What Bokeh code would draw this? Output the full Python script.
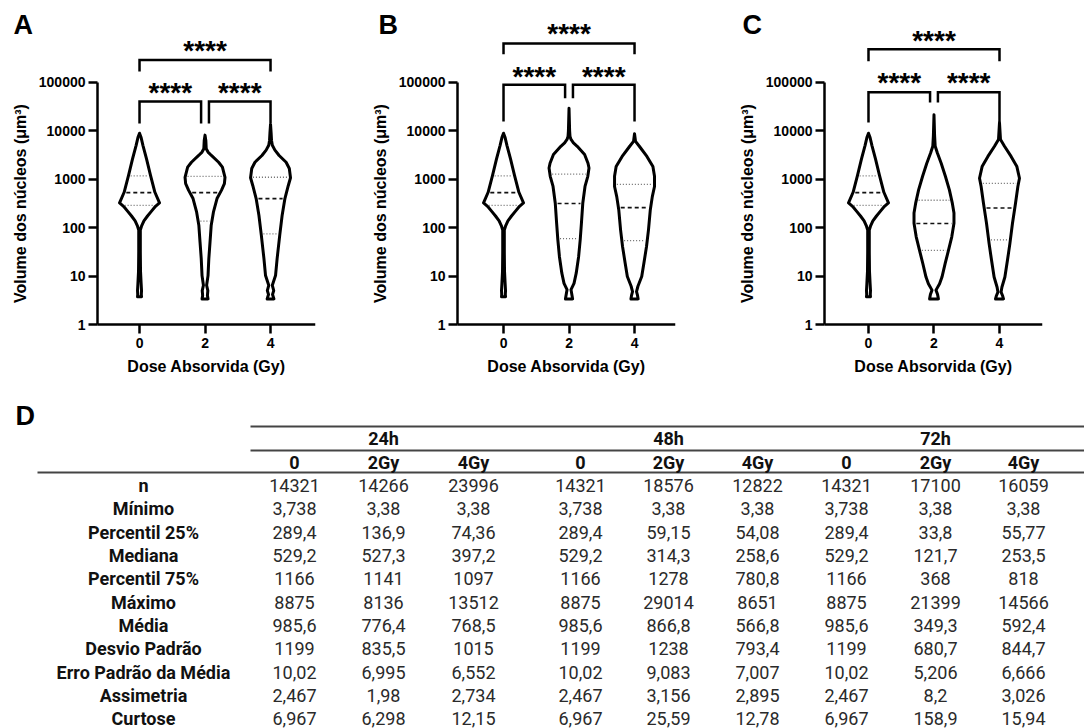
import numpy as np
from bokeh.plotting import figure
from bokeh.layouts import row, column
from bokeh.models import Range1d, FixedTicker, CustomJSTickFormatter, Label
from bokeh.core.properties import value
from bokeh.embed import file_html
from bokeh.resources import INLINE

# ---------------- data ----------------
DOSES = [0, 2, 4]
TIMES = ["24h", "48h", "72h"]
GROUPS = ["0", "2Gy", "4Gy"]
PANELS = ["A", "B", "C"]
Y_TICKS = [1, 10, 100, 1000, 10000, 100000]

ROW_LABELS = ["n", "Mínimo", "Percentil 25%", "Mediana", "Percentil 75%", "Máximo",
              "Média", "Desvio Padrão", "Erro Padrão da Média", "Assimetria", "Curtose"]
N_CELLS = [14321, 14266, 23996, 14321, 18576, 12822, 14321, 17100, 16059]
MINIMO = [3.738, 3.38, 3.38, 3.738, 3.38, 3.38, 3.738, 3.38, 3.38]
P25 = [289.4, 136.9, 74.36, 289.4, 59.15, 54.08, 289.4, 33.8, 55.77]
MEDIANA = [529.2, 527.3, 397.2, 529.2, 314.3, 258.6, 529.2, 121.7, 253.5]
P75 = [1166, 1141, 1097, 1166, 1278, 780.8, 1166, 368, 818]
MAXIMO = [8875, 8136, 13512, 8875, 29014, 8651, 8875, 21399, 14566]
MEDIA = [985.6, 776.4, 768.5, 985.6, 866.8, 566.8, 985.6, 349.3, 592.4]
DESVIO = [1199, 835.5, 1015, 1199, 1238, 793.4, 1199, 680.7, 844.7]
EPM = [10.02, 6.995, 6.552, 10.02, 9.083, 7.007, 10.02, 5.206, 6.666]
ASSIMETRIA = [2.467, 1.98, 2.734, 2.467, 3.156, 2.895, 2.467, 8.2, 3.026]
CURTOSE = [6.967, 6.298, 12.15, 6.967, 25.59, 12.78, 6.967, 158.9, 15.94]

# violin outlines: log10(volume) and relative half-width
CTRL_LOGV = [3.948, 3.86, 3.70, 3.42, 3.08, 2.73, 2.51, 2.44, 2.34, 2.24, 2.14, 2.03, 1.95, 1.5, 1.1, 0.85, 0.70, 0.62, 0.573]
CTRL_W = [0.0, 0.08, 0.17, 0.35, 0.55, 0.77, 1.00, 0.80, 0.60, 0.40, 0.22, 0.10, 0.04, 0.04, 0.05, 0.08, 0.10, 0.09, 0.10]
H24_2_LOGV = [3.910, 3.80, 3.63, 3.56, 3.49, 3.35, 3.25, 3.04, 2.91, 2.77, 2.60, 2.32, 2.05, 1.70, 1.36, 1.01, 0.81, 0.70, 0.60, 0.529]
H24_2_W = [0.0, 0.04, 0.06, 0.15, 0.32, 0.68, 0.87, 1.00, 0.97, 0.82, 0.60, 0.42, 0.31, 0.25, 0.19, 0.15, 0.08, 0.14, 0.12, 0.15]
H24_4_LOGV = [4.131, 3.95, 3.80, 3.70, 3.60, 3.49, 3.35, 3.22, 3.03, 2.87, 2.60, 2.25, 1.84, 1.36, 1.01, 0.81, 0.70, 0.62, 0.529]
H24_4_W = [0.0, 0.03, 0.05, 0.09, 0.22, 0.43, 0.78, 0.94, 1.00, 0.89, 0.72, 0.58, 0.46, 0.33, 0.25, 0.09, 0.16, 0.10, 0.17]
H48_2_LOGV = [4.463, 4.0, 3.88, 3.82, 3.75, 3.68, 3.51, 3.33, 3.23, 3.06, 2.85, 2.51, 2.09, 1.75, 1.40, 1.06, 0.85, 0.72, 0.60, 0.529]
H48_2_W = [0.0, 0.03, 0.05, 0.10, 0.22, 0.41, 0.78, 0.95, 1.00, 0.94, 0.80, 0.69, 0.62, 0.56, 0.48, 0.36, 0.25, 0.10, 0.15, 0.18]
H48_4_LOGV = [3.937, 3.78, 3.68, 3.47, 3.26, 3.06, 2.85, 2.64, 2.37, 1.96, 1.61, 1.27, 0.99, 0.79, 0.68, 0.60, 0.529]
H48_4_W = [0.0, 0.05, 0.24, 0.62, 0.92, 1.00, 1.00, 0.89, 0.79, 0.70, 0.60, 0.47, 0.36, 0.17, 0.10, 0.15, 0.18]
H72_2_LOGV = [4.330, 3.9, 3.68, 3.54, 3.33, 3.06, 2.78, 2.50, 2.30, 2.09, 1.81, 1.54, 1.26, 0.98, 0.84, 0.71, 0.62, 0.529]
H72_2_W = [0.0, 0.03, 0.06, 0.17, 0.36, 0.57, 0.77, 0.92, 1.00, 1.00, 0.89, 0.73, 0.56, 0.40, 0.28, 0.10, 0.18, 0.22]
H72_4_LOGV = [4.163, 3.82, 3.68, 3.47, 3.26, 3.02, 2.85, 2.50, 2.09, 1.67, 1.33, 0.98, 0.77, 0.67, 0.60, 0.529]
H72_4_W = [0.0, 0.05, 0.25, 0.58, 0.87, 1.00, 0.92, 0.80, 0.65, 0.52, 0.40, 0.27, 0.12, 0.08, 0.15, 0.20]

PROFILES = [
    [(CTRL_LOGV, CTRL_W), (H24_2_LOGV, H24_2_W), (H24_4_LOGV, H24_4_W)],
    [(CTRL_LOGV, CTRL_W), (H48_2_LOGV, H48_2_W), (H48_4_LOGV, H48_4_W)],
    [(CTRL_LOGV, CTRL_W), (H72_2_LOGV, H72_2_W), (H72_4_LOGV, H72_4_W)],
]

# significance bracket heights (log10 of volume)
BR_TOP_Y = [5.46, 5.80, 5.685]
BR_TOP_LEG = [5.223, 5.58, 5.436]
BR_LOW_Y = [4.604, 4.95, 4.793]
BR_LOW_LEG_OUT = [4.149, 4.19, 4.170]
BR_LOW_LEG_IN = [4.149, 4.67, 4.585]
STAR_TOP_Y = [5.66, 6.01, 5.87]
STAR_LOW_Y = [4.79, 5.12, 5.00]
SIG_TEXT = "****"

# ---------------- style ----------------
FONT = "Liberation Sans"
HALF = 0.61
GAP = 0.12
PX = 32.75                      # pixels per dose unit
DEC = 48.44                     # pixels per decade
X_START = [-1.283, -1.405, -1.343]   # where the y axis sits
X_SPAN = 6.656
FIG_W = [368, 367, 349]
LEFT_PX = [97, 89, 89]          # room left of the y axis
BORDER_R = [53, 60, 42]
LETTER_X = [-3.85, -3.82, -3.85]
Y_TOP = 6.4
FIG_H = 398
TOP_PX = 14
Y_BOTTOM = Y_TOP - (FIG_H - TOP_PX) / DEC


def make_panel(k):
    x0 = X_START[k] - LEFT_PX[k] / PX
    p = figure(width=FIG_W[k], height=FIG_H,
               x_range=Range1d(x0, X_START[k] + X_SPAN),
               y_range=Range1d(10 ** Y_BOTTOM, 10 ** Y_TOP), y_axis_type="log",
               output_backend="svg", toolbar_location=None,
               min_border_left=0, min_border_right=BORDER_R[k],
               min_border_top=TOP_PX, min_border_bottom=0)
    p.outline_line_color = None
    p.xgrid.visible = False
    p.ygrid.visible = False
    p.background_fill_color = "white"

    for ax in (p.xaxis, p.yaxis):
        ax.axis_line_width = 2.5
        ax.axis_line_color = "black"
        ax.major_tick_line_width = 2.5
        ax.major_tick_line_color = "black"
        ax.major_tick_out = 9
        ax.major_tick_in = 0
        ax.minor_tick_line_color = None
        ax.major_label_text_font = FONT
        ax.major_label_text_font_style = "bold"
        ax.major_label_text_font_size = "14px"
        ax.major_label_text_color = "black"
        ax.axis_label_text_font = FONT
        ax.axis_label_text_font_style = "bold"
        ax.axis_label_text_font_size = "16px"
        ax.axis_label_text_color = "black"
        ax.axis_label_standoff = 7
    p.xaxis.ticker = FixedTicker(ticks=DOSES)
    p.xaxis.major_label_standoff = 4
    p.xaxis.axis_label = "Dose Absorvida (Gy)"
    p.xaxis.bounds = (X_START[k], X_START[k] + X_SPAN)
    p.xaxis.fixed_location = 1
    p.yaxis.ticker = FixedTicker(ticks=Y_TICKS)
    p.yaxis.formatter = CustomJSTickFormatter(code="return Math.round(tick).toString();")
    p.yaxis.bounds = (1, 100000)
    p.yaxis.fixed_location = X_START[k]
    p.yaxis.major_label_standoff = 3
    p.yaxis.axis_label = "Volume dos núcleos (μm³)"

    for i, d in enumerate(DOSES):
        L, w = PROFILES[k][i]
        L = np.array(L, dtype=float)
        w = np.array(w, dtype=float)
        xs = np.concatenate([d + HALF * w, (d - HALF * w)[::-1]])
        ys = 10 ** np.concatenate([L, L[::-1]])
        p.patch(xs, ys, fill_color="white", line_color="black", line_width=3,
                line_join="round")
        col = 3 * k + i
        for q, dash, lw, colr in [(P25[col], "1 2", 1.3, "#6a6a6a"),
                                  (MEDIANA[col], "4 3", 1.6, "#111111"),
                                  (P75[col], "1 2", 1.3, "#6a6a6a")]:
            lq = np.log10(q)
            hw = np.interp(lq, L[::-1], w[::-1]) * HALF - 0.07
            p.line([d - hw, d + hw], [q, q], line_color=colr, line_width=lw,
                   line_dash=dash)

    # brackets
    bl = dict(line_color="black", line_width=2.5, line_join="miter")
    p.line([0, 0, 4, 4], [10 ** BR_TOP_LEG[k], 10 ** BR_TOP_Y[k], 10 ** BR_TOP_Y[k], 10 ** BR_TOP_LEG[k]], **bl)
    p.line([0, 0, 2 - GAP, 2 - GAP],
           [10 ** BR_LOW_LEG_OUT[k], 10 ** BR_LOW_Y[k], 10 ** BR_LOW_Y[k], 10 ** BR_LOW_LEG_IN[k]], **bl)
    p.line([2 + GAP, 2 + GAP, 4, 4],
           [10 ** BR_LOW_LEG_IN[k], 10 ** BR_LOW_Y[k], 10 ** BR_LOW_Y[k], 10 ** BR_LOW_LEG_OUT[k]], **bl)
    for sx, sy in [(2, STAR_TOP_Y[k]), ((2 - GAP) / 2, STAR_LOW_Y[k]), ((2 + GAP + 4) / 2, STAR_LOW_Y[k])]:
        p.add_layout(Label(x=sx, y=10 ** sy, text=SIG_TEXT, text_align="center",
                           text_baseline="alphabetic", text_font=FONT,
                           text_font_style="bold", text_font_size="28px",
                           text_color="black"))
    p.add_layout(Label(x=LETTER_X[k], y=10 ** 6.18, text=PANELS[k], text_align="left",
                       text_baseline="alphabetic", text_font=FONT,
                       text_font_style="bold", text_font_size="27px",
                       text_color="black"))
    return p


panels = [make_panel(k) for k in range(3)]

# ---------------- table (D) ----------------
TFONT = "Roboto"
COL_X = [294, 383, 473, 580, 668, 757, 846, 935, 1023]
GROUP_X = [383, 668, 935]
LABEL_X = 143
H1_Y = 438
H2_Y = 462
ROW_Y0 = 485
ROW_DY = 23.33


def fmt(v):
    if isinstance(v, int):
        return str(v)
    return repr(v).replace(".", ",")


ROWS = [N_CELLS, MINIMO, P25, MEDIANA, P75, MAXIMO, MEDIA, DESVIO, EPM, ASSIMETRIA, CURTOSE]

pD = figure(width=1084, height=330, x_range=Range1d(0, 1084), y_range=Range1d(728, 398),
            output_backend="svg", toolbar_location=None, min_border=0,
            x_axis_type=None, y_axis_type=None)
pD.outline_line_color = None
pD.grid.visible = False

pD.segment(x0=[250, 250, 37], y0=[426, 450, 472], x1=[1084, 1084, 1084], y1=[426, 450, 472],
           line_color="#444444", line_width=2)

pD.text(x=GROUP_X, y=[H1_Y] * 3, text=TIMES, text_font=value(TFONT), text_font_style="bold",
        text_font_size="18px", text_align="center", text_baseline="middle", text_color="#111111")
pD.text(x=COL_X, y=[H2_Y] * 9, text=GROUPS * 3, text_font=value(TFONT), text_font_style="bold",
        text_font_size="18px", text_align="center", text_baseline="middle", text_color="#111111")
row_y = [ROW_Y0 + r * ROW_DY for r in range(len(ROW_LABELS))]
pD.text(x=[LABEL_X] * len(ROW_LABELS), y=row_y, text=ROW_LABELS, text_font=value(TFONT),
        text_font_style="bold", text_font_size="18px", text_align="center",
        text_baseline="middle", text_color="#111111")
cx, cy, ct = [], [], []
for r, vals in enumerate(ROWS):
    for c, v in enumerate(vals):
        cx.append(COL_X[c])
        cy.append(row_y[r])
        ct.append(fmt(v))
pD.text(x=cx, y=cy, text=ct, text_font=value(TFONT), text_font_size="18px",
        text_align="center", text_baseline="middle", text_color="#2a2a2a")
pD.text(x=[15], y=[415], text=["D"], text_font=value(FONT), text_font_style="bold",
        text_font_size="27px", text_align="left", text_baseline="middle", text_color="black")

layout = column(row(*panels), pD)

open("out.html", "w").write(file_html(layout, INLINE))
